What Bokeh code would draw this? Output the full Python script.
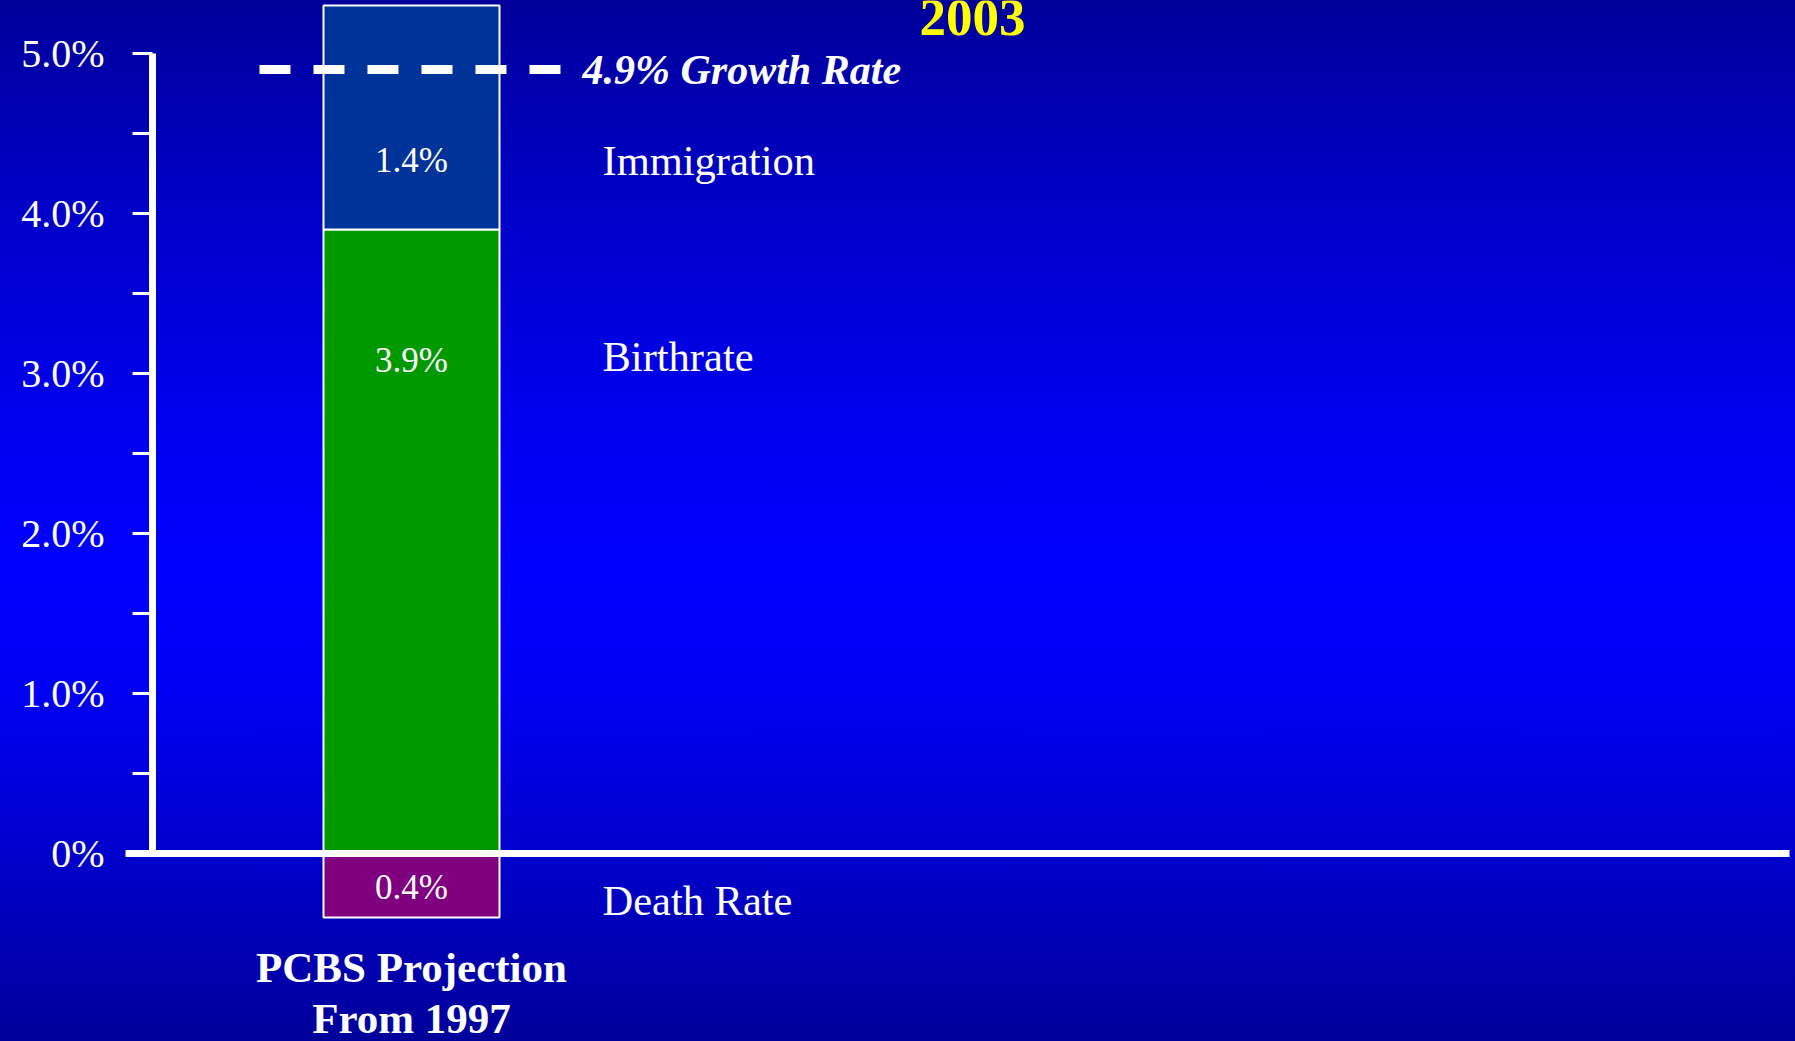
from bokeh.plotting import figure
from bokeh.models import Range1d, FixedTicker, LinearAxis, GlobalInlineStyleSheet
from bokeh.core.properties import value
from bokeh.embed import file_html
from bokeh.resources import INLINE

# ---- data ----
categories = ["PCBS Projection\nFrom 1997"]
birthrate = [3.9]
immigration = [1.4]
death_rate = [0.4]
growth_rate = 4.9
series_names = ["Birthrate", "Immigration", "Death Rate"]
y_ticks = [0, 1, 2, 3, 4, 5]
y_tick_labels = ["0%", "1.0%", "2.0%", "3.0%", "4.0%", "5.0%"]
year_label = "2003"

# ---- layout constants (pixels) ----
W, H = 1795, 1041
PX_X = 220.0      # pixels per category unit
PX_Y = 160.0      # pixels per percentage point
ZERO_Y = 853      # pixel row of 0 %
BAR_CX = 411      # pixel column of the bar centre
FONT = "Liberation Serif"

x_start = -BAR_CX / PX_X
x_end = x_start + W / PX_X
y_end = ZERO_Y / PX_Y
y_start = y_end - H / PX_Y


def px_x(c):
    return x_start + c / PX_X


grad = ("linear-gradient(to bottom, #00009a 0%, #0000c4 18%, #0000ee 40%, #0000ff 55%, "
        "#0000f4 66%, #0000cc 82%, #00009a 100%)")

p = figure(width=W, height=H, output_backend="svg", toolbar_location=None,
           x_range=Range1d(x_start, x_end), y_range=Range1d(y_start, y_end),
           x_axis_type=None, y_axis_type=None,
           min_border_left=0, min_border_right=0, min_border_top=0,
           min_border_bottom=0)
p.outline_line_color = None
p.background_fill_alpha = 0
p.border_fill_alpha = 0
p.styles = {"background": grad}
p.stylesheets = [GlobalInlineStyleSheet(css="html { min-height: 100%; background: " + grad + " no-repeat fixed; }")]

# ---- bars ----
xs = list(range(len(categories)))
bw = 0.8
birth_top = birthrate
imm_top = [b + i for b, i in zip(birthrate, immigration)]
death_bottom = [-d for d in death_rate]
p.vbar(x=xs, width=bw, bottom=0, top=birth_top, fill_color="#009900",
       line_color="white", line_width=2)
p.vbar(x=xs, width=bw, bottom=birth_top, top=imm_top, fill_color="#003399",
       line_color="white", line_width=2)
p.vbar(x=xs, width=bw, bottom=death_bottom, top=0, fill_color="#800080",
       line_color="white", line_width=2)

# ---- y axis ----
minor = [(a + b) / 2 for a, b in zip(y_ticks[:-1], y_ticks[1:])]
yaxis = LinearAxis(ticker=FixedTicker(ticks=y_ticks, minor_ticks=minor))
yaxis.bounds = (y_ticks[0], y_ticks[-1])
yaxis.fixed_location = px_x(152)
yaxis.major_label_overrides = {t: l for t, l in zip(y_ticks, y_tick_labels)}
yaxis.axis_line_color = "white"
yaxis.axis_line_width = 7
yaxis.major_tick_line_color = "white"
yaxis.major_tick_line_width = 3
yaxis.major_tick_out = 20
yaxis.major_tick_in = 0
yaxis.minor_tick_line_color = "white"
yaxis.minor_tick_line_width = 3
yaxis.minor_tick_out = 20
yaxis.minor_tick_in = 0
yaxis.major_label_text_color = "white"
yaxis.major_label_text_font = FONT
yaxis.major_label_text_font_size = "40px"
yaxis.major_label_standoff = 28
p.add_layout(yaxis, "left")

# ---- category axis (its line is the 0 % baseline) ----
xaxis = LinearAxis(ticker=FixedTicker(ticks=xs, minor_ticks=[]))
xaxis.fixed_location = 0
xaxis.bounds = (px_x(125), px_x(1789))
xaxis.major_label_overrides = {i: c for i, c in zip(xs, categories)}
xaxis.axis_line_color = "white"
xaxis.axis_line_width = 7
xaxis.major_tick_line_color = None
xaxis.minor_tick_line_color = None
xaxis.major_tick_out = 0
xaxis.major_tick_in = 0
xaxis.major_label_text_color = "white"
xaxis.major_label_text_font = FONT
xaxis.major_label_text_font_style = "bold"
xaxis.major_label_text_font_size = "43px"
xaxis.major_label_text_line_height = 1.1
xaxis.major_label_standoff = 90
p.add_layout(xaxis, "below")

# growth-rate dashed line
p.line(x=[xs[0] - 0.691, xs[0] + 0.691], y=[growth_rate, growth_rate],
       line_color="white", line_width=9, line_dash="31 23")
p.text(x=[px_x(582)], y=[growth_rate], text=[f"{growth_rate}% Growth Rate"],
       text_color="white", text_font=value(FONT), text_font_style="bold italic",
       text_font_size="42px", text_align="left", text_baseline="middle")

# value labels inside bars
label_y = [3.084, 4.331, -0.2125]
vals = [birthrate[0], immigration[0], death_rate[0]]
p.text(x=[xs[0]] * 3, y=label_y, text=[f"{v:.1f}%" for v in vals],
       text_color="white", text_font=value(FONT), text_font_size="35px",
       text_align="center", text_baseline="middle")

# series labels to the right
side_y = [3.106, 4.331, -0.294]
p.text(x=[px_x(602)] * 3, y=side_y, text=series_names,
       text_color="white", text_font=value(FONT), text_font_size="42.5px",
       text_align="left", text_baseline="middle")

# year label
p.text(x=[px_x(972)], y=[(ZERO_Y - 17) / PX_Y], text=[year_label], text_color="#ffff00",
       text_font=value(FONT), text_font_style="bold", text_font_size="53px",
       text_align="center", text_baseline="middle")

open("out.html", "w").write(file_html(p, INLINE))
